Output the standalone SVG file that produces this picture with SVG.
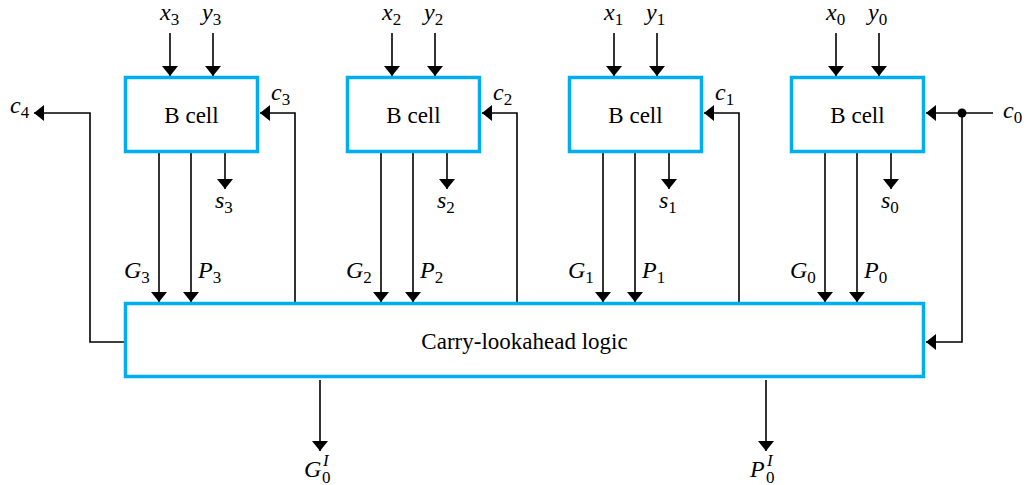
<svg xmlns="http://www.w3.org/2000/svg" width="1028" height="485" viewBox="0 0 1028 485">
<defs>
<marker id="ah" viewBox="0 0 10 16" refX="10" refY="8" markerWidth="10" markerHeight="16" markerUnits="userSpaceOnUse" orient="auto">
<path d="M0,0 L10,8 L0,16 Z" fill="#000"/>
</marker>
</defs>
<style>
.box{fill:#fff;stroke:#00aeef;stroke-width:3.5}
text{font-family:"Liberation Serif","Times New Roman",Tinos,"DejaVu Serif",serif;fill:#000}
.lbl{font-size:23px}
.v{font-style:italic;font-size:24px}
.sub{font-style:normal;font-size:17px}
.w{fill:none;stroke:#000;stroke-width:1.6}
.a{fill:none;stroke:#000;stroke-width:1.6;marker-end:url(#ah)}
</style>
<rect width="1028" height="485" fill="#fff"/>
<g id="connectors">
<line class="a" x1="170" y1="33" x2="170" y2="76"/>
<line class="a" x1="213" y1="33" x2="213" y2="76"/>
<line class="a" x1="392" y1="33" x2="392" y2="76"/>
<line class="a" x1="435" y1="33" x2="435" y2="76"/>
<line class="a" x1="614" y1="33" x2="614" y2="76"/>
<line class="a" x1="657" y1="33" x2="657" y2="76"/>
<line class="a" x1="836" y1="33" x2="836" y2="76"/>
<line class="a" x1="879" y1="33" x2="879" y2="76"/>
<line class="a" x1="225" y1="153" x2="225" y2="189"/>
<line class="a" x1="447" y1="153" x2="447" y2="189"/>
<line class="a" x1="669" y1="153" x2="669" y2="189"/>
<line class="a" x1="891" y1="153" x2="891" y2="189"/>
<line class="a" x1="159" y1="153" x2="159" y2="302"/>
<line class="a" x1="191" y1="153" x2="191" y2="302"/>
<line class="a" x1="381" y1="153" x2="381" y2="302"/>
<line class="a" x1="413" y1="153" x2="413" y2="302"/>
<line class="a" x1="603" y1="153" x2="603" y2="302"/>
<line class="a" x1="635" y1="153" x2="635" y2="302"/>
<line class="a" x1="825" y1="153" x2="825" y2="302"/>
<line class="a" x1="857" y1="153" x2="857" y2="302"/>
<polyline class="a" points="295,302 295,113 260,113"/>
<polyline class="a" points="517,302 517,113 482,113"/>
<polyline class="a" points="739,302 739,113 704,113"/>
<polyline class="a" points="124,342 90,342 90,113 34,113"/>
<line class="a" x1="993" y1="113" x2="926" y2="113"/>
<polyline class="a" points="962,113 962,342 926,342"/>
<circle cx="962" cy="113" r="4.5" fill="#000"/>
<line class="a" x1="320" y1="380" x2="320" y2="451"/>
<line class="a" x1="766" y1="380" x2="766" y2="451"/>
</g>
<g id="bcell3"><rect class="box" x="125.5" y="77.5" width="132" height="74"/><text class="lbl" x="191.5" y="123" text-anchor="middle">B cell</text></g>
<g id="bcell2"><rect class="box" x="347.5" y="77.5" width="132" height="74"/><text class="lbl" x="413.5" y="123" text-anchor="middle">B cell</text></g>
<g id="bcell1"><rect class="box" x="569.5" y="77.5" width="132" height="74"/><text class="lbl" x="635.5" y="123" text-anchor="middle">B cell</text></g>
<g id="bcell0"><rect class="box" x="791.5" y="77.5" width="132" height="74"/><text class="lbl" x="857.5" y="123" text-anchor="middle">B cell</text></g>
<g id="cla"><rect class="box" x="125.5" y="303.5" width="798" height="73"/><text class="lbl" x="524.5" y="349" text-anchor="middle">Carry-lookahead logic</text></g>
<g id="labels">
<text class="v" x="160" y="20">x<tspan class="sub" dy="5">3</tspan></text>
<text class="v" x="202" y="20">y<tspan class="sub" dy="5">3</tspan></text>
<text class="v" x="382" y="20">x<tspan class="sub" dy="5">2</tspan></text>
<text class="v" x="424" y="20">y<tspan class="sub" dy="5">2</tspan></text>
<text class="v" x="604" y="20">x<tspan class="sub" dy="5">1</tspan></text>
<text class="v" x="646" y="20">y<tspan class="sub" dy="5">1</tspan></text>
<text class="v" x="826" y="20">x<tspan class="sub" dy="5">0</tspan></text>
<text class="v" x="868" y="20">y<tspan class="sub" dy="5">0</tspan></text>
<text class="v" x="271" y="100">c<tspan class="sub" dy="5">3</tspan></text>
<text class="v" x="493" y="100">c<tspan class="sub" dy="5">2</tspan></text>
<text class="v" x="715" y="100">c<tspan class="sub" dy="5">1</tspan></text>
<text class="v" x="1003" y="118">c<tspan class="sub" dy="5">0</tspan></text>
<text class="v" x="10" y="113">c<tspan class="sub" dy="5">4</tspan></text>
<text class="v" x="215" y="208">s<tspan class="sub" dy="5">3</tspan></text>
<text class="v" x="437" y="208">s<tspan class="sub" dy="5">2</tspan></text>
<text class="v" x="659" y="208">s<tspan class="sub" dy="5">1</tspan></text>
<text class="v" x="881" y="208">s<tspan class="sub" dy="5">0</tspan></text>
<text class="v" x="124" y="278">G<tspan class="sub" dy="5">3</tspan></text>
<text class="v" x="198" y="278">P<tspan class="sub" dy="5">3</tspan></text>
<text class="v" x="346" y="278">G<tspan class="sub" dy="5">2</tspan></text>
<text class="v" x="420" y="278">P<tspan class="sub" dy="5">2</tspan></text>
<text class="v" x="568" y="278">G<tspan class="sub" dy="5">1</tspan></text>
<text class="v" x="642" y="278">P<tspan class="sub" dy="5">1</tspan></text>
<text class="v" x="790" y="278">G<tspan class="sub" dy="5">0</tspan></text>
<text class="v" x="864" y="278">P<tspan class="sub" dy="5">0</tspan></text>
<text class="v" x="304" y="477">G</text><text class="sub" x="322" y="483">0</text><text class="v" x="323" y="466" style="font-size:17px">I</text>
<text class="v" x="750" y="477">P</text><text class="sub" x="766" y="483">0</text><text class="v" x="767" y="466" style="font-size:17px">I</text>
</g>
</svg>
